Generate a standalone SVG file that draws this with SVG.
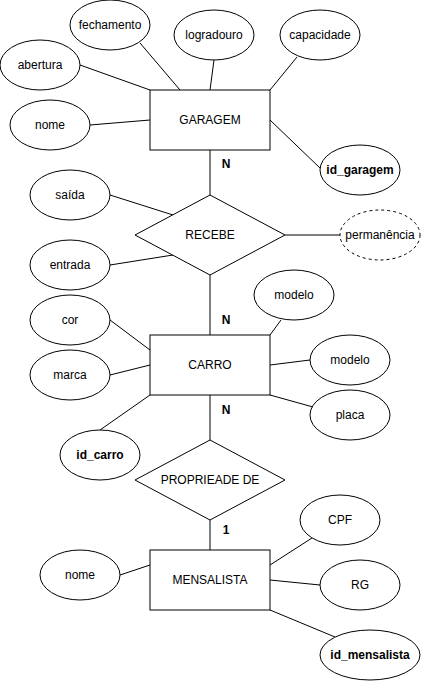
<svg xmlns="http://www.w3.org/2000/svg" width="421" height="681" viewBox="0 0 421 681">
<style>
.s{fill:#fff;stroke:#000;stroke-width:1}
.d{stroke-dasharray:3 3}
.t{font-family:"Liberation Sans",Arial,sans-serif;font-size:12px;fill:#000;text-anchor:middle;dominant-baseline:central}
.b{font-weight:bold}
#connectors line{stroke:#000;stroke-width:1}
</style>
<rect width="421" height="681" fill="#fff"/>
<g id="connectors">
<line x1="140" y1="43" x2="180" y2="90"/>
<line x1="214" y1="60" x2="210" y2="90"/>
<line x1="297" y1="57" x2="270" y2="90"/>
<line x1="80" y1="65" x2="150" y2="90"/>
<line x1="90" y1="125" x2="150" y2="120"/>
<line x1="270" y1="120" x2="320" y2="168"/>
<line x1="210" y1="150" x2="210" y2="195"/>
<line x1="110" y1="195" x2="173" y2="215"/>
<line x1="110" y1="265" x2="173" y2="255"/>
<line x1="285" y1="235" x2="340" y2="235"/>
<line x1="210" y1="275" x2="210" y2="335"/>
<line x1="281" y1="320" x2="270" y2="335"/>
<line x1="110" y1="320" x2="150" y2="350"/>
<line x1="110" y1="375" x2="150" y2="365"/>
<line x1="270" y1="365" x2="310" y2="360"/>
<line x1="270" y1="395" x2="313" y2="407"/>
<line x1="210" y1="395" x2="210" y2="440"/>
<line x1="150" y1="395" x2="100" y2="430"/>
<line x1="210" y1="520" x2="210" y2="550"/>
<line x1="270" y1="565" x2="312" y2="538"/>
<line x1="120" y1="575" x2="150" y2="565"/>
<line x1="270" y1="580" x2="320" y2="585"/>
<line x1="270" y1="610" x2="335" y2="637"/>
</g>
<g id="lbl-n1"><text class="t b" x="226" y="164">N</text></g>
<g id="lbl-n2"><text class="t b" x="226" y="320">N</text></g>
<g id="lbl-n3"><text class="t b" x="226" y="410">N</text></g>
<g id="lbl-1"><text class="t b" x="226" y="530">1</text></g>

<g id="garagem"><rect class="s" x="150" y="90" width="120" height="60"/><text class="t" x="210" y="120">GARAGEM</text></g>
<g id="fechamento"><ellipse class="s" cx="110" cy="25" rx="40" ry="25"/><text class="t" x="110" y="25">fechamento</text></g>
<g id="logradouro"><ellipse class="s" cx="214" cy="35" rx="40" ry="25"/><text class="t" x="214" y="35">logradouro</text></g>
<g id="capacidade"><ellipse class="s" cx="320" cy="35" rx="40" ry="25"/><text class="t" x="320" y="35">capacidade</text></g>
<g id="abertura"><ellipse class="s" cx="40" cy="65" rx="40" ry="25"/><text class="t" x="40" y="65">abertura</text></g>
<g id="nome-garagem"><ellipse class="s" cx="50" cy="125" rx="40" ry="25"/><text class="t" x="50" y="125">nome</text></g>
<g id="id_garagem"><ellipse class="s" cx="360" cy="170" rx="40" ry="25"/><text class="t b" x="360" y="170">id_garagem</text></g>

<g id="recebe"><polygon class="s" points="210,195 285,235 210,275 135,235"/><text class="t" x="210" y="235">RECEBE</text></g>
<g id="saida"><ellipse class="s" cx="70" cy="195" rx="40" ry="25"/><text class="t" x="70" y="195">saída</text></g>
<g id="entrada"><ellipse class="s" cx="70" cy="265" rx="40" ry="25"/><text class="t" x="70" y="265">entrada</text></g>
<g id="permanencia"><ellipse class="s d" cx="380" cy="235" rx="40" ry="25"/><text class="t" x="380" y="235">permanência</text></g>

<g id="carro"><rect class="s" x="150" y="335" width="120" height="60"/><text class="t" x="210" y="365">CARRO</text></g>
<g id="modelo1"><ellipse class="s" cx="294" cy="295" rx="40" ry="25"/><text class="t" x="294" y="295">modelo</text></g>
<g id="cor"><ellipse class="s" cx="70" cy="320" rx="40" ry="25"/><text class="t" x="70" y="320">cor</text></g>
<g id="marca"><ellipse class="s" cx="70" cy="375" rx="40" ry="25"/><text class="t" x="70" y="375">marca</text></g>
<g id="modelo2"><ellipse class="s" cx="350" cy="360" rx="40" ry="25"/><text class="t" x="350" y="360">modelo</text></g>
<g id="placa"><ellipse class="s" cx="350" cy="415" rx="40" ry="25"/><text class="t" x="350" y="415">placa</text></g>
<g id="id_carro"><ellipse class="s" cx="100" cy="455" rx="40" ry="25"/><text class="t b" x="100" y="455">id_carro</text></g>

<g id="propriedade"><polygon class="s" points="210,440 285,480 210,520 135,480"/><text class="t" x="210" y="480">PROPRIEADE DE</text></g>

<g id="mensalista"><rect class="s" x="150" y="550" width="120" height="60"/><text class="t" x="210" y="580">MENSALISTA</text></g>
<g id="cpf"><ellipse class="s" cx="340" cy="520" rx="40" ry="25"/><text class="t" x="340" y="520">CPF</text></g>
<g id="nome-mensalista"><ellipse class="s" cx="80" cy="575" rx="40" ry="25"/><text class="t" x="80" y="575">nome</text></g>
<g id="rg"><ellipse class="s" cx="360" cy="585" rx="40" ry="25"/><text class="t" x="360" y="585">RG</text></g>
<g id="id_mensalista"><ellipse class="s" cx="370" cy="655" rx="50" ry="25"/><text class="t b" x="370" y="655">id_mensalista</text></g>
</svg>
